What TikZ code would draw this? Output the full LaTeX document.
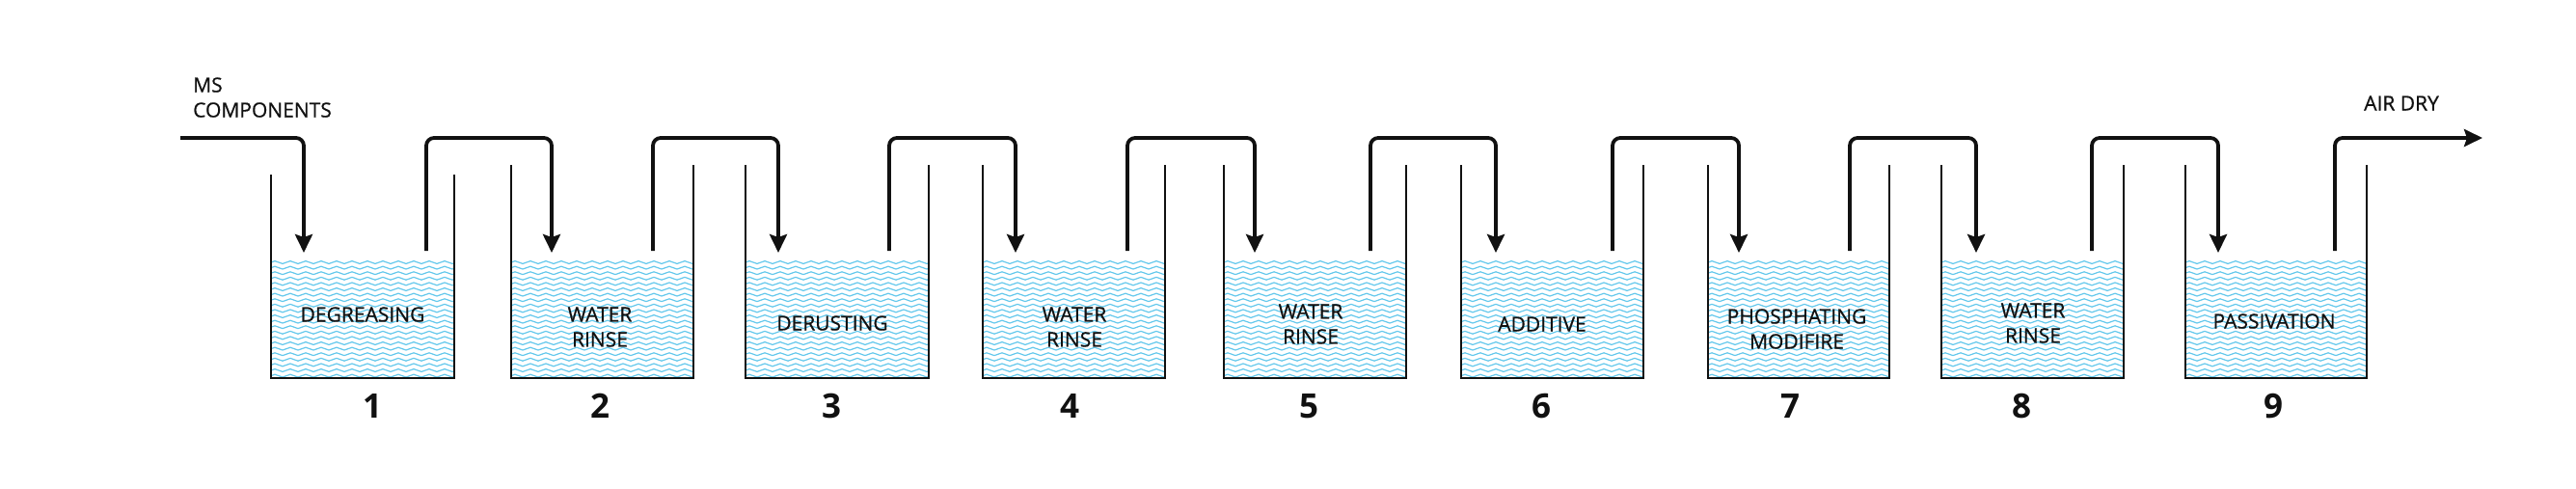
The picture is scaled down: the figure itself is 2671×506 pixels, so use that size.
\documentclass[tikz,border=0pt]{standalone}
\usepackage{fontspec}
\setmainfont{Open Sans}
\newfontfamily\labfont{Open Sans}[FakeBold=0.7]
\usetikzlibrary{arrows.meta}
\definecolor{wavec}{RGB}{100,200,236}
\definecolor{ink}{RGB}{17,17,17}
\tikzset{
  pipe/.style={ink, line width=3.8pt, rounded corners=8pt},
  wall/.style={ink, line width=1.8pt},
  wave/.style={wavec, line width=1.2pt},
  lab/.style={text=ink, font=\labfont\fontsize{21}{26}\selectfont, align=center, inner sep=0pt},
  num/.style={text=ink, font=\fontsize{35}{40}\selectfont\bfseries, inner sep=0pt},
  tip/.style={-{Stealth[length=19pt,width=18pt,inset=3pt]}}
}
\begin{document}
\begin{tikzpicture}[x=1pt,y=-1pt]
\useasboundingbox (0,0) rectangle (2671,506);
\coordinate (topy) at (0,143);
\foreach \k/\L/\R/\I/\O/\T in {1/281/471/315/442/181, 2/530/719/572/677/171,
  3/773/963/807/922/171, 4/1019/1208/1053/1169/171, 5/1269/1458/1301/1421/171,
  6/1515/1704/1551/1672/171, 7/1771/1959/1803/1918/171, 8/2013/2202/2049/2169/171,
  9/2266/2454/2300/2421/171} {
  \begin{scope}
    \clip (\L,269) rectangle (\R,392);
    \foreach \j in {0,...,22} {
      \draw[wave] (\L-16,272+\j*5.6) \foreach \m in {1,...,14} {
        sin ++(4,-1.4) cos ++(4,1.4) sin ++(4,1.4) cos ++(4,-1.4) };
    }
  \end{scope}
  \draw[wall] (\L,\T) -- (\L,392) -- (\R,392) -- (\R,\T);
  \coordinate (in\k) at (\I,262);
  \coordinate (out\k) at (\O,260);
}
% labels
\node[lab] (l1) at (376,326) {DEGREASING};
\node[lab] (l2) at (622,339) {WATER\\RINSE};
\node[lab] (l3) at (863,335) {DERUSTING};
\node[lab] (l4) at (1114,339) {WATER\\RINSE};
\node[lab] (l5) at (1359,336) {WATER\\RINSE};
\node[lab] (l6) at (1599,336) {ADDITIVE};
\node[lab] (l7) at (1863,341) {PHOSPHATING\\MODIFIRE};
\node[lab] (l8) at (2108,335) {WATER\\RINSE};
\node[lab] (l9) at (2358,333) {PASSIVATION};
% numbers
\foreach \n/\x in {1/386,2/622,3/862,4/1109,5/1357,6/1598,7/1856,8/2096,9/2357}
  \node[num] (n\n) at (\x,421) {\n};
% texts
\node[lab, align=left, anchor=west] (ms) at (200,101) {MS\\COMPONENTS};
\node[lab, anchor=west] (air) at (2451,107) {AIR DRY};
% pipes
\coordinate (start) at (187,143);
\draw[pipe,tip] (start) -- (start -| in1) -- (in1);
\foreach \a/\b in {1/2,2/3,3/4,4/5,5/6,6/7,7/8,8/9}
  \draw[pipe,tip] (out\a) -- (out\a |- topy) -- (in\b |- topy) -- (in\b);
\coordinate (dry) at (2574,143);
\draw[pipe,tip] (out9) -- (out9 |- dry) -- (dry);
\end{tikzpicture}
\end{document}
